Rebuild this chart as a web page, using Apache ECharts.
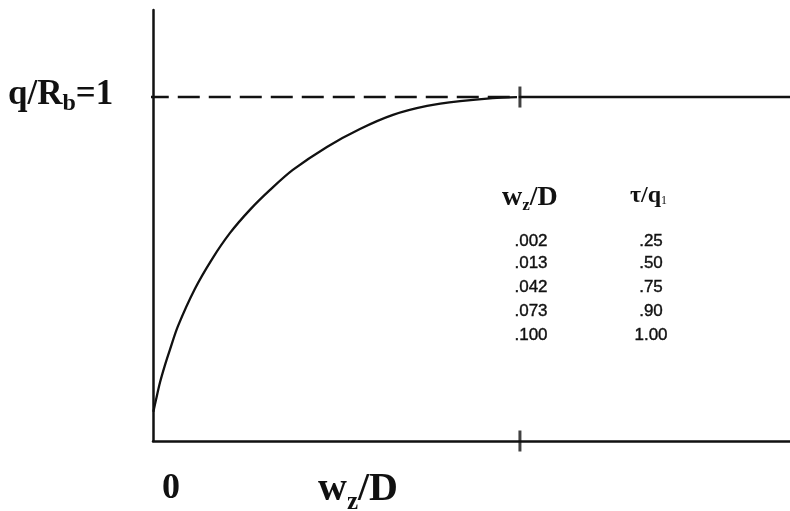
<!DOCTYPE html>
<html>
<head>
<meta charset="utf-8">
<script src="https://cdn.jsdelivr.net/npm/echarts@6/dist/echarts.min.js"></script>
<style>
html,body{margin:0;padding:0;background:#fff;}
#chart{width:790px;height:511px;}
</style>
</head>
<body>
<div id="chart"></div>
<script>
// ---- data ----
var curveX = [0.0001, 0.0008, 0.0019, 0.0033, 0.0046, 0.0068, 0.0114, 0.0161, 0.0210, 0.0264, 0.0319, 0.0381, 0.0474, 0.0564, 0.0654, 0.0747, 0.0837, 0.0926, 0.0992];
var curveY = [0.085, 0.119, 0.170, 0.222, 0.265, 0.334, 0.442, 0.529, 0.605, 0.672, 0.730, 0.788, 0.855, 0.907, 0.948, 0.974, 0.988, 0.997, 1.0];
var limitLevel = 1;          // q/Rb = 1
var markX = 0.1;             // wz/D = .100
var xMax = 0.1736;
var yMax = 1.253;
var tableWz = ['.002', '.013', '.042', '.073', '.100'];
var tableTau = ['.25', '.50', '.75', '.90', '1.00'];

var chart = echarts.init(document.getElementById('chart'), null, {renderer:'canvas'});

var curveData = curveX.map(function(x, i){ return [x, curveY[i]]; });
var serif = '"Liberation Serif", "Times New Roman", serif';
var sans = '"Liberation Sans", Arial, sans-serif';

var graphics = [];
// left label q/Rb=1
graphics.push({
  type:'text', left: 8, top: 77,
  style:{
    text:'{a|q/R}{s|b}{a|=1}',
    rich:{
      a:{fontFamily:serif, fontWeight:'bold', fontSize:35, fill:'#111', lineHeight:37, verticalAlign:'top'},
      s:{fontFamily:serif, fontWeight:'bold', fontSize:24, fill:'#111', lineHeight:37, verticalAlign:'top', padding:[15,0,0,0]}
    }
  }
});
// bottom 0
graphics.push({
  type:'text', left: 162, top: 471,
  style:{ text:'0', fontFamily:serif, fontWeight:'bold', fontSize:36, fill:'#111' }
});
// bottom wz/D
graphics.push({
  type:'text', left: 318, top: 470,
  style:{
    text:'{a|w}{s|z}{a|/D}',
    rich:{
      a:{fontFamily:serif, fontWeight:'bold', fontSize:40, fill:'#111', lineHeight:40, verticalAlign:'top'},
      s:{fontFamily:serif, fontWeight:'bold', fontSize:25, fill:'#111', lineHeight:40, verticalAlign:'top', padding:[20,0,0,0]}
    }
  }
});
// table header
graphics.push({
  type:'text', left: 502, top: 184,
  style:{
    text:'{a|w}{s|z}{a|/D}',
    rich:{
      a:{fontFamily:serif, fontWeight:'bold', fontSize:28, fill:'#111', lineHeight:30, verticalAlign:'top'},
      s:{fontFamily:serif, fontWeight:'bold', fontSize:17, fill:'#111', lineHeight:30, verticalAlign:'top', padding:[13,0,0,0]}
    }
  }
});
graphics.push({
  type:'text', left: 630, top: 184,
  style:{
    text:'{a|τ/q}{s|1}',
    rich:{
      a:{fontFamily:serif, fontWeight:'bold', fontSize:24, fill:'#111', lineHeight:26, verticalAlign:'top'},
      s:{fontFamily:serif, fontSize:12, fill:'#111', lineHeight:26, verticalAlign:'top', padding:[11,0,0,0]}
    }
  }
});
var rowY = [241, 263, 287, 311, 335];
tableWz.forEach(function(v, i){
  graphics.push({type:'text', x:531, y:rowY[i],
    style:{text:v, fontFamily:sans, fontSize:17, fill:'#111', align:'center', verticalAlign:'middle', stroke:'#111', lineWidth:0.4}});
});
tableTau.forEach(function(v, i){
  graphics.push({type:'text', x:651, y:rowY[i],
    style:{text:v, fontFamily:sans, fontSize:17, fill:'#111', align:'center', verticalAlign:'middle', stroke:'#111', lineWidth:0.4}});
});

var option = {
  backgroundColor:'#fff',
  animation:false,
  grid:{left:153, top:10, right:0, bottom:70, containLabel:false},
  xAxis:{
    type:'value', min:0, max:xMax,
    axisLine:{show:true, onZero:false, lineStyle:{color:'#111', width:2.5}},
    axisTick:{show:false}, axisLabel:{show:false}, splitLine:{show:false}
  },
  yAxis:{
    type:'value', min:0, max:yMax,
    axisLine:{show:true, onZero:false, lineStyle:{color:'#111', width:2.5}},
    axisTick:{show:false}, axisLabel:{show:false}, splitLine:{show:false}
  },
  series:[
    {
      type:'line', data:curveData, smooth:0.3, showSymbol:false, symbol:'none',
      lineStyle:{color:'#111', width:2.3}, z:3
    },
    {
      type:'line', data:[[-0.0017, limitLevel],[markX, limitLevel]], showSymbol:false, symbol:'none', clip:false,
      lineStyle:{color:'#111', width:2.5, type:[22,9]}
    },
    {
      type:'line', data:[[markX, limitLevel],[xMax, limitLevel]], showSymbol:false, symbol:'none',
      lineStyle:{color:'#111', width:2.5}
    },
    {
      type:'scatter', data:[[markX, limitLevel],[markX, 0]], symbol:'rect', symbolSize:[3,21],
      itemStyle:{color:'#111'}, clip:false
    }
  ],
  graphic: graphics
};
chart.setOption(option);
</script>
</body>
</html>
